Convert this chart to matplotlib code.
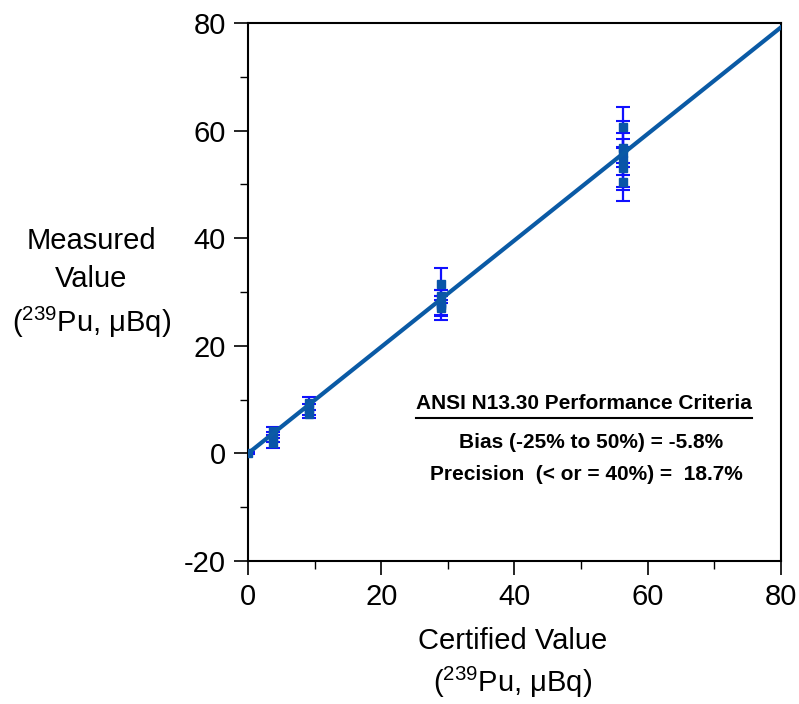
import matplotlib
matplotlib.use("Agg")
import matplotlib.pyplot as plt
import numpy as np

plt.rcParams["font.family"] = ["Liberation Sans", "DejaVu Sans"]
plt.rcParams["mathtext.fontset"] = "custom"
plt.rcParams["mathtext.rm"] = "Liberation Sans"
plt.rcParams["axes.unicode_minus"] = False

# certified vs measured values (239Pu, uBq)
certified = [0.0, 3.7, 3.7, 3.7, 9.2, 9.2, 9.2,
             29.0, 29.0, 29.0, 29.0, 29.0,
             56.3, 56.3, 56.3, 56.3, 56.3, 56.3]
measured = [0.0, 4.2, 3.0, 2.0, 9.3, 8.2, 7.3,
            31.5, 29.2, 28.0, 27.5, 27.0,
            60.6, 56.7, 55.8, 54.5, 53.0, 50.5]
errors = [0.2, 0.8, 0.9, 0.9, 1.2, 1.0, 0.8,
          2.9, 1.2, 2.4, 1.8, 2.2,
          3.8, 5.0, 2.6, 5.0, 4.0, 3.5]

fit_x = [0, 80]
fit_slope = 0.99

fig = plt.figure(figsize=(7.99, 7.04), dpi=100)
ax = fig.add_axes([0.3104, 0.2031, 0.667, 0.7642])

ax.errorbar(certified, measured, yerr=errors, fmt="none", ecolor="#1010ff",
            elinewidth=1.6, capsize=5, capthick=1.5, zorder=2)
ax.plot(certified, measured, "s", color="#0a55a8", markersize=6, zorder=3)
ax.plot(fit_x, [fit_slope * v for v in fit_x], color="#0a5aa5", lw=3, zorder=4)

ax.set_xlim(0, 80)
ax.set_ylim(-20, 80)
ax.set_xticks([0, 20, 40, 60, 80])
ax.set_yticks([-20, 0, 20, 40, 60, 80])
ax.set_xticks(np.arange(10, 80, 20), minor=True)
ax.set_yticks(np.arange(-10, 80, 20), minor=True)
ax.tick_params(axis="both", which="major", direction="out", length=10, width=1.2,
               labelsize=21, pad=6)
ax.tick_params(axis="both", which="minor", direction="out", length=6, width=1)
for s in ax.spines.values():
    s.set_linewidth(1.5)

fig.text(0.114, 0.597, "Measured\nValue\n($^{239}$Pu, μBq)", ha="center",
         va="center", fontsize=21, linespacing=1.45)
fig.text(0.642, 0.058, "Certified Value\n($^{239}$Pu, μBq)", ha="center",
         va="center", fontsize=21, linespacing=1.35)

ax.text(50.4, 7.6, "ANSI N13.30 Performance Criteria", ha="center", va="bottom",
        fontsize=15, fontweight="bold")
ax.plot([25.2, 75.6], [6.6, 6.6], color="black", lw=1.5, clip_on=False)
ax.text(51.5, 2.0, "Bias (-25% to 50%) = -5.8%", ha="center", va="center",
        fontsize=15, fontweight="bold")
ax.text(50.8, -3.9, "Precision  (< or = 40%) =  18.7%", ha="center", va="center",
        fontsize=15, fontweight="bold")

fig.savefig("out.png", dpi=100)
